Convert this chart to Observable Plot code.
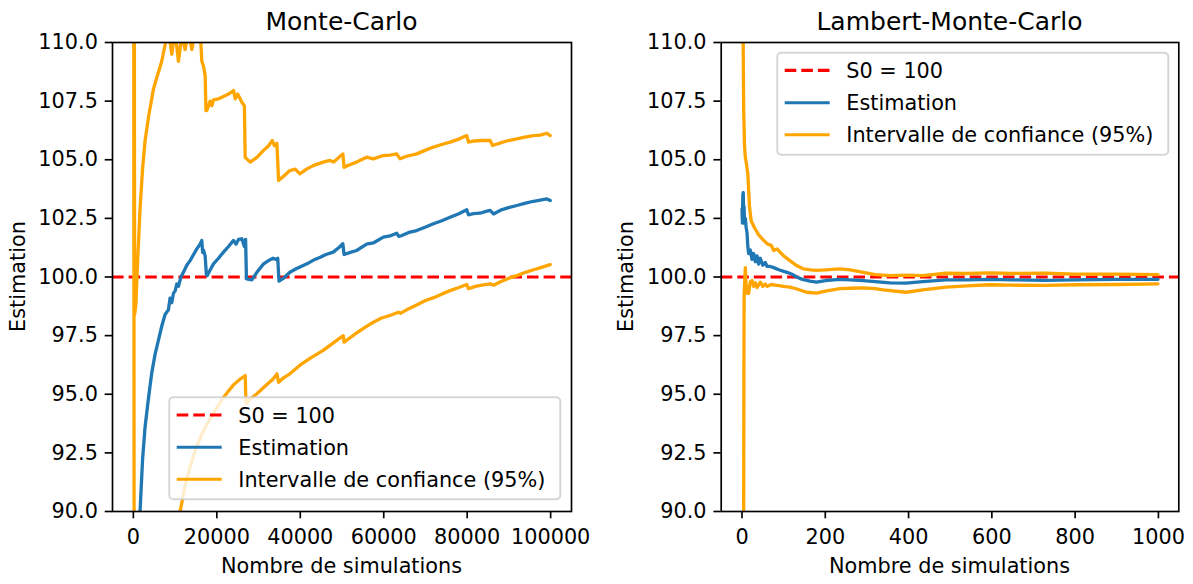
<!DOCTYPE html>
<html><head><meta charset="utf-8">
<script src="https://cdn.jsdelivr.net/npm/d3@7"></script>
<script src="https://cdn.jsdelivr.net/npm/@observablehq/plot@0.6"></script>
<style>
body{margin:0;background:#fff;}
#wrap{position:relative;width:1193px;height:584px;overflow:hidden;font-family:"DejaVu Sans",sans-serif;background:#fff;}
#wrap svg{position:absolute;top:0;}
</style></head><body><div id="wrap"></div>
<script>
// ---- Data ----
const S0 = 100;
const yTicks = [90, 92.5, 95, 97.5, 100, 102.5, 105, 107.5, 110];
const mcXTicks = [0, 20000, 40000, 60000, 80000, 100000];
const lmcXTicks = [0, 200, 400, 600, 800, 1000];
const titles = ["Monte-Carlo", "Lambert-Monte-Carlo"];
const xLabel = "Nombre de simulations";
const yLabel = "Estimation";
const legendLabels = ["S0 = 100", "Estimation", "Intervalle de confiance (95%)"];

// Monte-Carlo: [n, value]
const mcEstimation = [[0,30],[800,80],[1600,90.0],[2200,92.2],[2800,93.6],[3600,94.8],[4400,95.9],[5200,96.7],[6000,97.3],[6800,97.9],[7600,98.4],[8400,98.6],[8800,99.1],[9200,98.9],[9600,99.3],[10000,99.4],[10400,99.7],[10800,99.6],[11400,100.0],[12000,100.2],[12800,100.5],[13600,100.7],[14400,100.95],[15200,101.2],[16000,101.4],[16400,101.56],[16600,101.05],[16800,101.15],[17200,100.9],[17500,100.1],[17700,100.06],[18400,100.3],[19200,100.56],[20400,100.8],[21600,101.06],[22800,101.3],[24000,101.56],[24600,101.4],[25200,101.6],[26000,101.63],[26600,101.3],[26900,101.6],[27100,99.92],[28400,99.88],[29600,100.2],[31200,100.56],[32400,100.7],[33500,100.8],[34200,100.75],[34600,100.8],[34900,99.82],[36000,99.95],[37500,100.2],[39000,100.35],[40700,100.49],[42000,100.6],[43500,100.75],[44800,100.84],[46000,100.95],[47900,101.06],[49200,101.25],[50200,101.42],[50500,100.96],[52000,101.05],[53500,101.13],[55900,101.4],[57500,101.45],[59900,101.7],[61500,101.75],[63100,101.87],[63600,101.73],[64200,101.76],[66000,101.9],[67900,101.98],[69900,102.12],[71900,102.27],[73900,102.4],[75900,102.55],[78000,102.7],[79900,102.87],[80300,102.65],[81500,102.7],[83100,102.72],[84500,102.8],[85500,102.84],[86300,102.69],[88000,102.85],[89900,102.96],[91900,103.05],[94000,103.15],[95900,103.23],[97500,103.28],[99100,103.33],[99900,103.26]];
const mcUpper = [[0,160],[300,98.4],[600,98.8],[1000,100.6],[1600,102.9],[2200,104.6],[2800,105.8],[3700,106.9],[4800,108.0],[5600,108.5],[6800,109.2],[7600,109.9],[8400,110.6],[9200,109.5],[10000,110.5],[10800,109.2],[11600,110.3],[12400,109.7],[13200,110.5],[14000,109.7],[14800,110.5],[15400,110.1],[16000,110.6],[16400,109.2],[16800,109.0],[17200,108.6],[17400,107.1],[17600,107.1],[18400,107.5],[18800,107.3],[19200,107.55],[20400,107.6],[21600,107.7],[22800,107.8],[24000,107.95],[24400,107.6],[25000,107.8],[26000,107.45],[26600,107.3],[26800,105.1],[28000,104.9],[29600,105.1],[31200,105.4],[32400,105.6],[33300,105.82],[33800,105.6],[34400,105.7],[34800,104.12],[36000,104.3],[37500,104.54],[38800,104.6],[39900,104.4],[41500,104.6],[43100,104.75],[45500,104.9],[47100,104.97],[48000,104.9],[50200,105.25],[50500,104.68],[52000,104.8],[53500,104.9],[55900,105.11],[57500,105.04],[59900,105.18],[61500,105.2],[63100,105.25],[63900,105.04],[65500,105.15],[67900,105.25],[69900,105.4],[71900,105.54],[73900,105.65],[75900,105.75],[78000,105.88],[79900,106.03],[80300,105.75],[81700,105.8],[83100,105.82],[85500,105.82],[86100,105.61],[88000,105.72],[89900,105.82],[91900,105.89],[93500,105.95],[95900,106.03],[97500,106.05],[99100,106.13],[99900,106.03]];
const mcLower = [[0,140],[150,98.0],[300,40],[1500,55],[4000,70],[7000,80],[9500,86.5],[11200,90.0],[12400,91.1],[13600,91.9],[15200,92.8],[16800,93.45],[19200,94.2],[21600,94.87],[24000,95.4],[25600,95.65],[26800,95.8],[27000,94.59],[28000,94.8],[29600,95.02],[31600,95.35],[33500,95.65],[34400,95.87],[34800,95.51],[36000,95.7],[37500,95.87],[40000,96.25],[42500,96.55],[45500,96.87],[48000,97.2],[50300,97.5],[50500,97.22],[53000,97.55],[55500,97.85],[57500,98.07],[59500,98.25],[61500,98.36],[63500,98.5],[64000,98.45],[66000,98.65],[68000,98.82],[70000,99.0],[72000,99.12],[74000,99.28],[75900,99.42],[78000,99.55],[79900,99.68],[80300,99.5],[82000,99.6],[83500,99.65],[85500,99.71],[86300,99.65],[88000,99.8],[90000,99.95],[91900,100.06],[94000,100.2],[95900,100.31],[98000,100.42],[99900,100.53]];

// Lambert-Monte-Carlo: [n, value]
const lmcEstimation = [[0,102.9],[1,102.3],[2,103.5],[3,103.6],[4,102.6],[5,103.0],[6,102.3],[8,102.5],[10,102.1],[12,101.9],[14,101.3],[16,101.0],[20,101.15],[24,100.75],[28,101.0],[32,100.65],[36,100.9],[40,100.55],[44,100.8],[50,100.5],[56,100.62],[60,100.45],[68,100.45],[76,100.4],[90,100.3],[108,100.2],[120,100.12],[131,100.0],[145,99.9],[163,99.82],[179,99.78],[200,99.85],[235,99.9],[260,99.88],[291,99.85],[320,99.8],[355,99.75],[394,99.74],[434,99.8],[490,99.88],[540,99.88],[594,99.9],[650,99.88],[729,99.86],[800,99.88],[900,99.9],[999,99.9]];
const lmcUpper = [[0,125],[2,112],[4,107.2],[6,105.6],[8,105.1],[10,104.9],[14,104.4],[18,103.0],[22,102.4],[30,102.1],[40,101.8],[50,101.6],[60,101.42],[70,101.35],[76,101.13],[84,101.2],[100,100.9],[115,100.7],[130,100.5],[147,100.35],[165,100.3],[179,100.28],[200,100.3],[235,100.35],[260,100.3],[291,100.2],[320,100.1],[355,100.06],[394,100.08],[434,100.06],[490,100.16],[540,100.15],[594,100.18],[650,100.15],[729,100.16],[800,100.12],[900,100.12],[999,100.1]];
const lmcLower = [[0,50],[3,80],[5,99.2],[7,100.0],[8,100.4],[10,99.6],[12,99.3],[14,99.6],[16,99.3],[20,99.8],[24,99.85],[28,99.6],[32,99.75],[36,99.55],[44,99.78],[50,99.6],[56,99.7],[60,99.6],[70,99.68],[84,99.64],[100,99.6],[115,99.57],[130,99.5],[155,99.35],[179,99.31],[200,99.4],[235,99.5],[260,99.52],[291,99.54],[320,99.5],[339,99.45],[394,99.35],[434,99.45],[490,99.57],[540,99.62],[594,99.67],[650,99.65],[729,99.64],[800,99.67],[900,99.68],[999,99.71]];

// ---- Drawing ----
const BLUE = "#1f77b4", ORANGE = "#ffa500", RED = "#ff0000";
const FS = 20.8, LW = 3.3;
const wrap = document.getElementById("wrap");

function panel({est, up, low, xDomain, xTicks, left, width, ml, mr, title, legend}) {
  const obj = a => a.map(([x, y]) => ({x, y}));
  const lineOpts = c => ({x: "x", y: "y", stroke: c, strokeWidth: LW, clip: true, strokeLinejoin: "round"});
  const svg = Plot.plot({
    width, height: 584, marginTop: 42, marginBottom: 73, marginLeft: ml, marginRight: mr,
    style: {fontFamily: "DejaVu Sans", fontSize: FS + "px", background: "transparent", color: "black", overflow: "visible"},
    x: {type: "linear", domain: xDomain},
    y: {type: "linear", domain: [90, 110]},
    marks: [
      Plot.ruleY([S0], {stroke: RED, strokeWidth: 3.1, strokeDasharray: "11.6,5"}),
      Plot.line(obj(est), lineOpts(BLUE)),
      Plot.line(obj(up), lineOpts(ORANGE)),
      Plot.line(obj(low), lineOpts(ORANGE)),
      Plot.frame({stroke: "black", strokeWidth: 1.67}),
      Plot.axisX({ticks: xTicks, tickFormat: d => String(d), tickSize: 7.3, tickPadding: 10.2, fontSize: FS, label: null, strokeWidth: 1.67}),
      Plot.axisY({ticks: yTicks, tickFormat: d => d.toFixed(1), tickSize: 7.3, tickPadding: 7.3, fontSize: FS, label: null, strokeWidth: 1.67})
    ]
  });
  svg.style.left = left + "px";
  svg.style.maxWidth = "none";
  const s = d3.select(svg);
  const cx = (ml + width - mr) / 2;
  s.append("text").attr("x", cx).attr("y", 29.5).attr("text-anchor", "middle")
    .attr("font-size", 25).attr("fill", "black").text(title);
  s.append("text").attr("x", cx).attr("y", 573).attr("text-anchor", "middle")
    .attr("font-size", FS).attr("fill", "black").text(xLabel);
  s.append("text").attr("transform", `translate(${ml - 87.3},276.5) rotate(-90)`).attr("text-anchor", "middle")
    .attr("font-size", FS).attr("fill", "black").text(yLabel);
  // legend
  const g = s.append("g").attr("transform", `translate(${legend[0]},${legend[1]})`);
  g.append("rect").attr("x", 0).attr("y", 0).attr("width", 391).attr("height", 102).attr("rx", 4)
    .attr("fill", "white").attr("fill-opacity", 0.8).attr("stroke", "#cccccc").attr("stroke-opacity", 0.8).attr("stroke-width", 2);
  const rows = [17.7, 50, 82];
  const cols = [RED, BLUE, ORANGE];
  rows.forEach((ry, i) => {
    g.append("line").attr("x1", 7.4).attr("x2", 52.4).attr("y1", ry).attr("y2", ry)
      .attr("stroke", cols[i]).attr("stroke-width", 3.1)
      .attr("stroke-dasharray", i === 0 ? "11.6,5" : null);
    g.append("text").attr("x", 69).attr("y", ry + 7.6).attr("text-anchor", "start")
      .attr("font-size", FS).attr("fill", "black").text(legendLabels[i]);
  });
  wrap.appendChild(svg);
}

panel({est: mcEstimation, up: mcUpper, low: mcLower, xDomain: [-5000, 104999], xTicks: mcXTicks,
  left: 0, width: 596, ml: 112, mr: 25, title: titles[0], legend: [169.3, 397.3]});
panel({est: lmcEstimation, up: lmcUpper, low: lmcLower, xDomain: [-49.95, 1048.95], xTicks: lmcXTicks,
  left: 596, width: 597, ml: 124.7, mr: 14.7, title: titles[1], legend: [181.3, 52.7]});
</script></body></html>
